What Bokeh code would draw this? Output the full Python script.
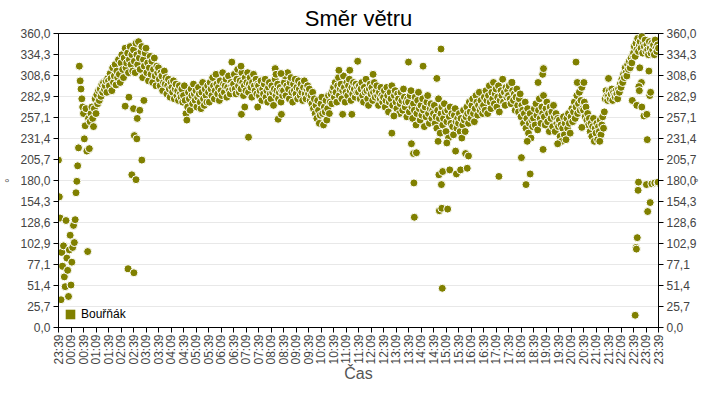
from bokeh.plotting import figure
from bokeh.models import (FixedTicker, CustomJSTickFormatter, LinearAxis, Range1d,
                          Legend, LegendItem, ColumnDataSource)
from bokeh.embed import file_html
from bokeh.resources import INLINE
from math import pi

TITLE = "Směr větru"
SERIES = "Bouřňák"
X_LABEL = "Čas"
Y_LABEL = "°"
START = "23:39"
STEP_MIN = 2

# wind direction (deg), one value every 2 minutes from 23:39, one row per hour
main_dir = [
    205, 160, 134, 34, 92, 75, 100, 62, 50, 131, 85, 70, 38, 95, 113, 52, 80, 98, 125, 104, 132, 165, 179, 198, 220, 320, 302, 292, 280, 270,
    262, 231, 247, 268, 216, 93, 256, 219, 252, 262, 270, 256, 246, 268, 280, 262, 285, 274, 290, 278, 292, 283, 298, 288, 300, 292, 296, 302, 288, 305,
    302, 296, 311, 305, 290, 318, 300, 308, 322, 297, 314, 306, 328, 310, 300, 324, 334, 316, 306, 330, 342, 318, 324, 336, 312, 328, 344, 322, 334, 314,
    340, 326, 312, 348, 334, 322, 350, 330, 316, 338, 344, 306, 328, 320, 336, 342, 312, 324, 302, 318, 332, 310, 326, 300, 316, 330, 308, 296, 320, 312,
    318, 304, 296, 312, 308, 290, 300, 314, 298, 306, 286, 296, 304, 292, 282, 300, 294, 288, 302, 280, 292, 298, 284, 290, 278, 296, 286, 282, 292, 276,
    284, 296, 278, 262, 254, 270, 288, 280, 266, 292, 284, 274, 298, 286, 278, 290, 270, 282, 294, 286, 276, 268, 288, 300, 280, 272, 292, 284, 276, 296,
    288, 276, 300, 292, 284, 306, 296, 280, 290, 310, 298, 286, 294, 278, 302, 290, 284, 312, 298, 288, 296, 304, 282, 294, 308, 290, 286, 300, 296, 292,
    298, 310, 292, 286, 304, 316, 296, 288, 302, 292, 312, 300, 284, 296, 306, 290, 300, 312, 288, 298, 306, 294, 282, 300, 310, 296, 290, 304, 286, 298,
    296, 284, 290, 302, 278, 292, 286, 298, 304, 282, 290, 276, 294, 300, 286, 280, 296, 288, 272, 292, 304, 284, 290, 298, 280, 288, 294, 276, 290, 284,
    290, 300, 308, 284, 296, 312, 292, 280, 300, 306, 288, 276, 298, 290, 304, 286, 294, 280, 302, 292, 284, 298, 288, 278, 294, 302, 286, 280, 292, 296,
    286, 292, 278, 284, 274, 288, 268, 280, 262, 272, 256, 278, 266, 250, 260, 274, 282, 262, 248, 270, 264, 278, 254, 268, 284, 262, 276, 286, 274, 290,
    294, 282, 300, 288, 276, 296, 306, 284, 292, 298, 280, 290, 308, 294, 276, 288, 300, 284, 296, 304, 290, 278, 294, 286, 300, 292, 282, 298, 288, 294,
    288, 296, 280, 292, 300, 284, 276, 294, 288, 304, 290, 280, 272, 292, 298, 286, 294, 278, 288, 300, 282, 290, 296, 284, 272, 288, 280, 294, 284, 276,
    282, 290, 270, 278, 294, 284, 264, 276, 288, 280, 296, 272, 260, 284, 290, 276, 268, 286, 280, 262, 274, 288, 278, 266, 292, 282, 270, 276, 258, 280,
    276, 264, 284, 290, 270, 256, 274, 266, 282, 248, 262, 278, 288, 268, 254, 272, 260, 280, 266, 246, 270, 258, 276, 284, 262, 250, 268, 274, 256, 266,
    262, 272, 250, 258, 244, 266, 280, 256, 238, 262, 270, 248, 256, 274, 264, 240, 252, 266, 232, 258, 270, 250, 262, 246, 236, 260, 268, 252, 244, 256,
    250, 262, 240, 256, 232, 248, 266, 254, 240, 258, 270, 262, 250, 276, 264, 256, 272, 280, 262, 252, 268, 284, 276, 260, 272, 288, 266, 278, 270, 262,
    272, 282, 266, 290, 278, 262, 284, 296, 276, 268, 288, 280, 300, 274, 286, 292, 270, 282, 296, 264, 278, 290, 284, 304, 276, 288, 272, 294, 282, 290,
    284, 296, 280, 274, 300, 290, 278, 286, 266, 282, 292, 272, 264, 280, 286, 258, 272, 266, 250, 262, 276, 244, 256, 268, 238, 250, 262, 232, 254, 246,
    256, 268, 248, 274, 260, 242, 266, 280, 256, 250, 270, 262, 284, 258, 248, 268, 276, 252, 262, 240, 270, 256, 264, 246, 272, 258, 240, 262, 250, 256,
    246, 254, 234, 248, 228, 244, 258, 236, 250, 230, 256, 244, 262, 250, 238, 258, 268, 252, 264, 276, 256, 270, 284, 262, 274, 288, 266, 278, 294, 268,
    266, 276, 258, 270, 254, 262, 248, 256, 240, 250, 234, 246, 256, 228, 244, 238, 250, 230, 246, 240, 254, 236, 248, 258, 244, 264, 280, 290, 284, 278,
    284, 290, 280, 286, 292, 278, 288, 284, 282, 290, 286, 280, 292, 288, 298, 294, 304, 300, 310, 306, 318, 312, 308, 322, 316, 326, 318, 330, 324, 334,
    336, 344, 332, 348, 340, 354, 338, 346, 350, 342, 356, 336, 348, 344, 352, 338, 346, 340, 334, 350, 342, 336, 348, 340, 346, 334, 352, 342, 338, 346,
    342,
]

# isolated readings off the main band
out_time = ["02:19", "02:28", "02:26", "02:40", "02:35", "02:45", "02:41", "02:47", "02:48", "02:39", "02:54", "02:59", "03:04",
            "06:35", "06:57", "06:58", "07:06", "07:15", "07:37",
            "08:19", "08:21", "08:33", "08:26", "08:34",
            "10:52", "11:18", "11:37", "11:01", "11:23", "12:14", "12:59", "13:04",
            "13:39", "13:51", "13:58", "13:52", "13:53", "13:46", "14:14",
            "14:47", "14:57", "14:52", "15:01", "14:58", "14:53", "14:59", "15:13", "15:00", "14:50", "15:11", "15:18", "15:34", "15:44", "16:00", "15:56", "16:03", "15:32",
            "17:16", "18:10", "18:21", "18:31", "18:24",
            "18:50", "19:01", "19:03", "19:02", "19:37",
            "20:21", "20:24", "20:40", "20:35", "21:18", "21:39",
            "22:36", "22:47", "22:59", "22:58", "22:52", "22:53", "23:04", "23:11", "23:16", "23:18", "23:20", "23:12", "22:54",
            "22:48", "22:45", "22:46", "22:43", "22:51", "22:50", "23:13", "23:19", "23:10", "23:23", "23:30", "23:37", "23:38"]
out_dir = [271, 282, 72, 67, 187, 181, 235, 231, 256, 268, 266, 205, 278,
           325, 320, 261, 270, 233, 270,
           317, 310, 311, 255, 261,
           315, 315, 326, 261, 261, 310, 238, 259,
           325, 213, 214, 177, 135, 225, 320,
           305, 341, 187, 191, 175, 143, 146, 145, 48, 228, 226, 193, 188, 193, 195, 213, 210, 216,
           185, 208, 175, 188, 228,
           300, 310, 317, 218, 225,
           325, 300, 300, 245, 228, 305,
           278, 272, 270, 300, 295, 290, 259, 261, 314, 284, 288, 230, 318,
           110, 98, 96, 15, 178, 168, 142, 153, 175, 176, 177, 177, 178]

x_tick_labels = ["23:39", "00:09", "00:39", "01:09", "01:39", "02:09", "02:39", "03:09", "03:39", "04:09",
                 "04:39", "05:09", "05:39", "06:09", "06:39", "07:09", "07:39", "08:09", "08:39", "09:09",
                 "09:39", "10:09", "10:39", "11:09", "11:39", "12:09", "12:39", "13:09", "13:39", "14:09",
                 "14:39", "15:09", "15:39", "16:09", "16:39", "17:09", "17:39", "18:09", "18:39", "19:09",
                 "19:39", "20:09", "20:39", "21:09", "21:39", "22:09", "22:39", "23:09", "23:39"]
y_tick_labels = ["0,0", "25,7", "51,4", "77,1", "102,9", "128,6", "154,3", "180,0",
                 "205,7", "231,4", "257,1", "282,9", "308,6", "334,3", "360,0"]

assert len(out_time) == len(out_dir)

sh, sm = map(int, START.split(":"))
start_min = sh * 60 + sm


def to_min(t):
    h, m = map(int, t.split(":"))
    return (h * 60 + m - start_min) % 1440


xs = [i * STEP_MIN for i in range(len(main_dir))] + [to_min(t) for t in out_time]
ys = list(main_dir) + list(out_dir)
src = ColumnDataSource(dict(x=xs, y=ys))

SPAN_MIN = 30 * (len(x_tick_labels) - 1)
Y_MAX = 360.0
y_step = Y_MAX / (len(y_tick_labels) - 1)

OLIVE = "#808000"
FONT = "Liberation Sans"

p = figure(width=704, height=384, output_backend="svg", toolbar_location=None,
           x_range=Range1d(0, SPAN_MIN), y_range=Range1d(0, Y_MAX),
           min_border_left=47, min_border_right=46, min_border_top=24, min_border_bottom=40,
           y_axis_location=None)

p.title.text = TITLE
p.title.align = "center"
p.title.text_font = FONT
p.title.text_font_size = "22px"
p.title.text_font_style = "normal"
p.title.text_color = "#000000"
p.title.standoff = 6

# legend swatch: a zero-area quad on the first reading, hidden beneath the dots
sq = p.quad(left=xs[:1], right=xs[:1], top=ys[:1], bottom=ys[:1],
            fill_color=OLIVE, line_color=OLIVE, line_alpha=0)

p.scatter(x="x", y="y", source=src, marker="circle", size=8,
          fill_color=OLIVE, line_color="white", line_width=1)

x_ticker = FixedTicker(ticks=[i * 30 for i in range(len(x_tick_labels))])
y_ticker = FixedTicker(ticks=[i * y_step for i in range(len(y_tick_labels))])
x_fmt = CustomJSTickFormatter(args=dict(labels=x_tick_labels), code="return labels[Math.round(tick/30)];")
y_fmt = CustomJSTickFormatter(args=dict(labels=y_tick_labels, step=y_step),
                              code="return labels[Math.round(tick/step)];")


def style_axis(ax):
    ax.axis_line_color = "black"
    ax.major_tick_line_color = "black"
    ax.major_tick_out = 5
    ax.major_tick_in = 0
    ax.minor_tick_line_color = None
    ax.major_label_text_font = FONT
    ax.major_label_text_font_size = "12px"
    ax.major_label_text_color = "#444444"
    ax.axis_label_text_font = FONT
    ax.axis_label_text_font_style = "normal"
    ax.axis_label_text_color = "#555555"


xa = p.xaxis[0]
xa.ticker = x_ticker
xa.formatter = x_fmt
xa.major_label_orientation = pi / 2
xa.axis_label = X_LABEL
style_axis(xa)
xa.axis_label_text_font_size = "16px"
xa.major_label_standoff = 2
xa.axis_label_standoff = -3

for side, stand in (("left", 0), ("right", -14)):
    ya = LinearAxis(ticker=y_ticker, formatter=y_fmt, axis_label=Y_LABEL)
    style_axis(ya)
    ya.axis_label_text_font_size = "12px"
    ya.major_label_standoff = 3
    ya.axis_label_standoff = stand
    p.add_layout(ya, side)

p.xgrid.visible = False
p.ygrid.ticker = y_ticker
p.ygrid.grid_line_color = "#e8e8e8"

p.outline_line_color = "black"
p.outline_line_alpha = 1

legend = Legend(items=[LegendItem(label=SERIES, renderers=[sq])], location="bottom_left",
                background_fill_alpha=0, border_line_alpha=0,
                label_text_font=FONT, label_text_font_size="12px", label_text_color="#000000",
                glyph_width=12, glyph_height=12, padding=2, margin=4, spacing=0)
p.add_layout(legend)

open("out.html", "w").write(file_html(p, INLINE))
